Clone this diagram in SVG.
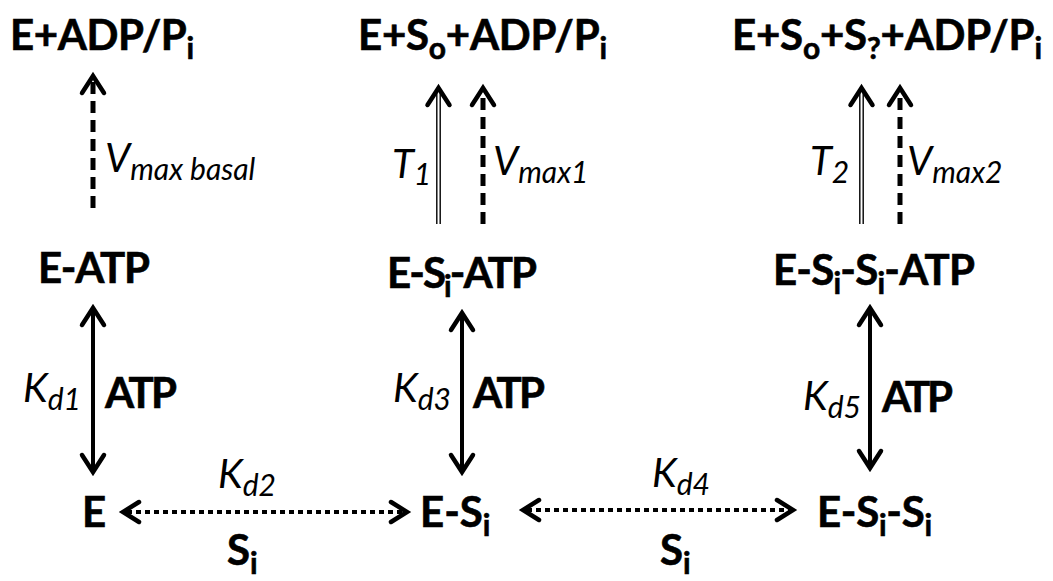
<svg xmlns="http://www.w3.org/2000/svg" width="1053" height="581" viewBox="0 0 1053 581">
<style>
.b{font-family:Lato,"Open Sans","Liberation Sans",sans-serif;font-weight:bold;font-size:42px;fill:#000;stroke:#000;stroke-width:0.6}
.it{font-family:Lato,"Open Sans","Liberation Sans",sans-serif;font-style:italic;font-size:40px;fill:#000}
.sb{font-size:30px}
.solid{stroke:#000;stroke-width:4;fill:none}
.dash{stroke:#000;stroke-width:5;fill:none;stroke-dasharray:12 7}
.dot{stroke:#000;stroke-width:4;fill:none;stroke-dasharray:5 4}
.thin{stroke:#000;stroke-width:1.4;fill:none}
.head{stroke:#000;stroke-width:4.5;fill:none;stroke-linejoin:miter;stroke-linecap:round}
</style>
<rect width="1053" height="581" fill="#fff"/>
<g id="n-e-adp"><text class="b" x="10" y="50" textLength="184">E+ADP/P<tspan class="sb" dy="9">i</tspan></text></g>
<g id="n-e-so-adp"><text class="b" x="358" y="50" textLength="249">E+S<tspan class="sb" dy="9">o</tspan><tspan dy="-9">+ADP/P</tspan><tspan class="sb" dy="9">i</tspan></text></g>
<g id="n-e-so-s-adp"><text class="b" x="732" y="50" textLength="310">E+S<tspan class="sb" dy="9">o</tspan><tspan dy="-9">+S</tspan><tspan class="sb" dy="9">?</tspan><tspan dy="-9">+ADP/P</tspan><tspan class="sb" dy="9">i</tspan></text></g>
<g id="n-e-atp"><text class="b" x="38" y="283" textLength="112">E-ATP</text></g>
<g id="n-e-si-atp"><text class="b" x="387" y="288" textLength="150">E-S<tspan class="sb" dy="9">i</tspan><tspan dy="-9">-ATP</tspan></text></g>
<g id="n-e-si-si-atp"><text class="b" x="773" y="285" textLength="202">E-S<tspan class="sb" dy="9">i</tspan><tspan dy="-9">-S</tspan><tspan class="sb" dy="9">i</tspan><tspan dy="-9">-ATP</tspan></text></g>
<g id="n-e"><text class="b" x="82" y="527">E</text></g>
<g id="n-e-si"><text class="b" x="420" y="527">E-S<tspan class="sb" dy="9">i</tspan></text></g>
<g id="n-e-si-si"><text class="b" x="817" y="527" textLength="115">E-S<tspan class="sb" dy="9">i</tspan><tspan dy="-9">-S</tspan><tspan class="sb" dy="9">i</tspan></text></g>
<g id="connectors">
<line class="dash" x1="93" y1="208" x2="93" y2="80"/>
<path class="head" d="M82,93 L93,76 L104,93"/>
<line class="thin" x1="436.8" y1="224" x2="436.8" y2="92"/>
<line class="thin" x1="440.2" y1="224" x2="440.2" y2="92"/>
<path class="head" d="M427.5,105 L438.5,88 L449.5,105"/>
<line class="dash" x1="483" y1="224" x2="483" y2="92"/>
<path class="head" d="M472,105 L483,88 L494,105"/>
<line class="thin" x1="859.8" y1="224" x2="859.8" y2="92"/>
<line class="thin" x1="863.2" y1="224" x2="863.2" y2="92"/>
<path class="head" d="M850.5,105 L861.5,88 L872.5,105"/>
<line class="dash" x1="900" y1="224" x2="900" y2="92"/>
<path class="head" d="M889,105 L900,88 L911,105"/>
<line class="solid" x1="93" y1="311" x2="93" y2="469"/>
<path class="head" d="M82,325 L93,308 L104,325 M82,455 L93,472 L104,455"/>
<line class="solid" x1="462" y1="316" x2="462" y2="469"/>
<path class="head" d="M451,330 L462,313 L473,330 M451,455 L462,472 L473,455"/>
<line class="solid" x1="870" y1="311" x2="870" y2="465"/>
<path class="head" d="M859,325 L870,308 L881,325 M859,451 L870,468 L881,451"/>
<line class="dot" x1="127" y1="512" x2="403" y2="512"/>
<path class="head" d="M139,502 L123,512 L139,522 M391,502 L407,512 L391,522"/>
<line class="dot" x1="527" y1="510" x2="789" y2="510"/>
<path class="head" d="M539,500 L523,510 L539,520 M777,500 L793,510 L777,520"/>
</g>
<g id="labels">
<text class="it" x="105" y="172">V<tspan class="sb" dy="8">max basal</tspan></text>
<text class="it" x="392" y="178">T<tspan class="sb" dy="7">1</tspan></text>
<text class="it" x="493" y="175">V<tspan class="sb" dy="8">max1</tspan></text>
<text class="it" x="810" y="175">T<tspan class="sb" dy="8">2</tspan></text>
<text class="it" x="907" y="175">V<tspan class="sb" dy="8">max2</tspan></text>
<text class="it" x="23" y="402">K<tspan class="sb" dy="8">d1</tspan></text>
<text class="b" x="105" y="408" textLength="72">ATP</text>
<text class="it" x="393" y="402">K<tspan class="sb" dy="8">d3</tspan></text>
<text class="b" x="473" y="408" textLength="72">ATP</text>
<text class="it" x="803" y="410">K<tspan class="sb" dy="8">d5</tspan></text>
<text class="b" x="882" y="412" textLength="71">ATP</text>
<text class="it" x="218" y="488">K<tspan class="sb" dy="8">d2</tspan></text>
<text class="it" x="652" y="487">K<tspan class="sb" dy="8">d4</tspan></text>
<text class="b" x="227" y="565">S<tspan class="sb" dy="9">i</tspan></text>
<text class="b" x="660" y="565">S<tspan class="sb" dy="9">i</tspan></text>
</g>
</svg>
